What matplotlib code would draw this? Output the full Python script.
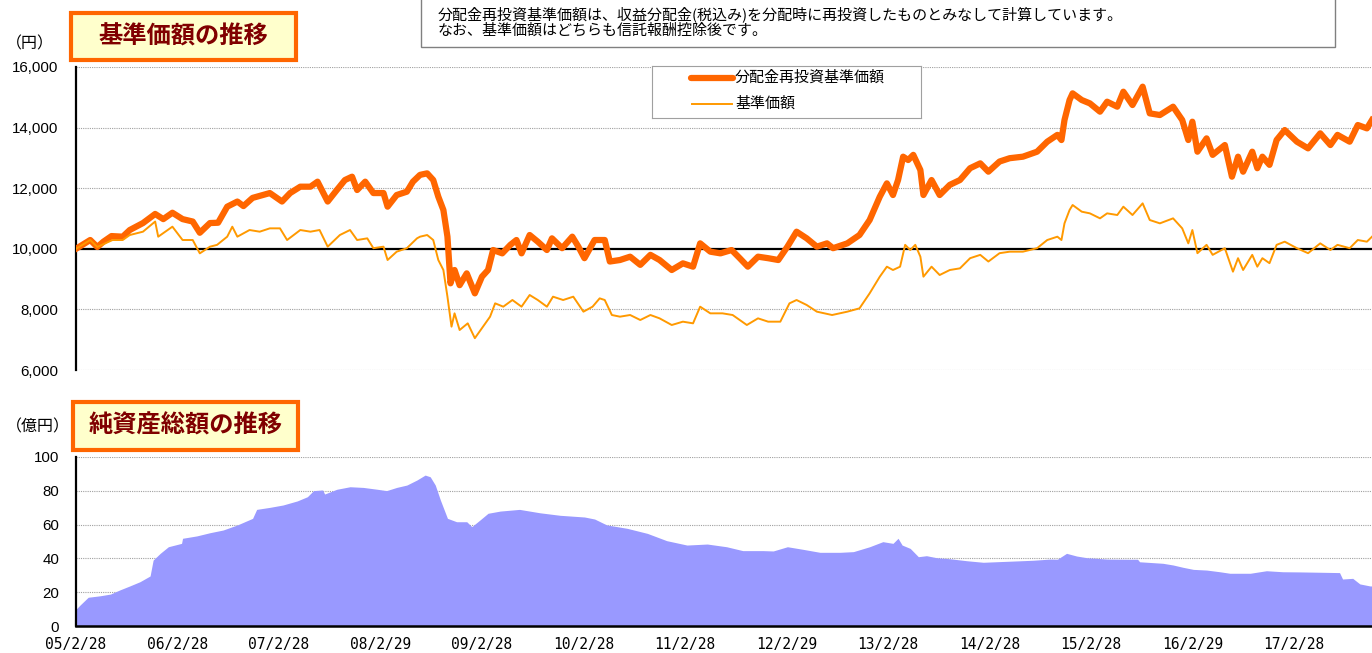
import matplotlib
matplotlib.use('Agg')
import matplotlib.pyplot as plt
from matplotlib.patches import Rectangle
import numpy as np

plt.rcParams['font.family'] = ['Noto Sans CJK JP', 'DejaVu Sans']

# 分配金再投資基準価額 (decimal year, yen)
re_x = [2005.16, 2005.30, 2005.37, 2005.43, 2005.51, 2005.62, 2005.69, 2005.82, 2005.94, 2006.02,
        2006.11, 2006.21, 2006.31, 2006.38, 2006.48, 2006.56, 2006.65, 2006.75, 2006.81, 2006.90,
        2007.07, 2007.19, 2007.27, 2007.37, 2007.47, 2007.54, 2007.64, 2007.73, 2007.81, 2007.88,
        2007.93, 2008.01, 2008.09, 2008.19, 2008.23, 2008.32, 2008.42, 2008.48, 2008.55, 2008.62,
        2008.68, 2008.73, 2008.78, 2008.82, 2008.85, 2008.89, 2008.94, 2009.01, 2009.09, 2009.16,
        2009.22, 2009.27, 2009.36, 2009.44, 2009.50, 2009.55, 2009.63, 2009.71, 2009.80, 2009.85,
        2009.95, 2010.05, 2010.11, 2010.17, 2010.27, 2010.37, 2010.42, 2010.52, 2010.62, 2010.72,
        2010.82, 2010.91, 2011.03, 2011.14, 2011.24, 2011.31, 2011.41, 2011.51, 2011.62, 2011.70,
        2011.78, 2011.88, 2011.98, 2012.08, 2012.17, 2012.26, 2012.36, 2012.46, 2012.56, 2012.62,
        2012.76, 2012.88, 2012.98, 2013.08, 2013.15, 2013.21, 2013.26, 2013.31, 2013.36, 2013.41,
        2013.48, 2013.51, 2013.59, 2013.67, 2013.77, 2013.87, 2013.97, 2014.07, 2014.15, 2014.26,
        2014.36, 2014.49, 2014.63, 2014.73, 2014.83, 2014.87, 2014.90, 2014.95, 2014.98, 2015.07,
        2015.15, 2015.25, 2015.32, 2015.42, 2015.48, 2015.57, 2015.67, 2015.74, 2015.84, 2015.97,
        2016.06, 2016.12, 2016.16, 2016.21, 2016.30, 2016.36, 2016.48, 2016.55, 2016.61, 2016.66,
        2016.75, 2016.80, 2016.85, 2016.92, 2016.99, 2017.07, 2017.19, 2017.30, 2017.42, 2017.52,
        2017.59, 2017.71, 2017.79, 2017.88, 2017.93]
re_y = [10000, 10290, 10060, 10235, 10420, 10400, 10620, 10850, 11150, 10980,
        11190, 10980, 10900, 10530, 10850, 10860, 11390, 11560, 11410, 11680,
        11840, 11560, 11840, 12050, 12050, 12215, 11560, 11940, 12270, 12380,
        11940, 12215, 11840, 11840, 11390, 11775, 11885, 12215, 12440, 12490,
        12270, 11720, 11280, 10400, 8860, 9300, 8800, 9190, 8530, 9080,
        9300, 9960, 9850, 10130, 10290, 9850, 10455, 10235, 9960, 10345,
        10020, 10400, 10070, 9690, 10290, 10290, 9580, 9630, 9740, 9470,
        9800, 9630, 9300, 9520, 9410, 10180, 9905, 9850, 9960, 9690,
        9410, 9740, 9690, 9630, 10070, 10565, 10345, 10070, 10180, 10020,
        10180, 10455, 10950, 11720, 12160, 11775, 12270, 13040, 12930, 13100,
        12600, 11775, 12270, 11775, 12110, 12270, 12660, 12820, 12545, 12880,
        12990, 13040, 13205, 13535, 13760, 13590, 14250, 14910, 15130, 14910,
        14800, 14525, 14855, 14690, 15185, 14745, 15350, 14470, 14415, 14690,
        14250, 13590, 14195, 13205, 13645, 13100, 13425, 12380, 13040, 12545,
        13205, 12660, 13040, 12770, 13590, 13920, 13535, 13315, 13810, 13425,
        13760, 13535, 14085, 13975, 14250]

# 基準価額
nav_x = [2005.16, 2005.30, 2005.37, 2005.52, 2005.62, 2005.69, 2005.82, 2005.94, 2005.97, 2006.11,
         2006.21, 2006.31, 2006.38, 2006.48, 2006.55, 2006.65, 2006.70, 2006.75, 2006.87, 2006.97,
         2007.07, 2007.17, 2007.24, 2007.37, 2007.47, 2007.56, 2007.64, 2007.76, 2007.86, 2007.93,
         2008.03, 2008.09, 2008.19, 2008.23, 2008.32, 2008.42, 2008.52, 2008.55, 2008.62, 2008.68,
         2008.73, 2008.78, 2008.82, 2008.86, 2008.89, 2008.94, 2009.02, 2009.09, 2009.16, 2009.24,
         2009.29, 2009.37, 2009.46, 2009.55, 2009.63, 2009.71, 2009.80, 2009.86, 2009.96, 2010.06,
         2010.16, 2010.25, 2010.32, 2010.37, 2010.44, 2010.52, 2010.62, 2010.72, 2010.82, 2010.91,
         2011.03, 2011.14, 2011.24, 2011.31, 2011.41, 2011.53, 2011.63, 2011.77, 2011.88, 2011.98,
         2012.10, 2012.19, 2012.26, 2012.36, 2012.46, 2012.61, 2012.76, 2012.88, 2012.98, 2013.08,
         2013.15, 2013.21, 2013.28, 2013.33, 2013.38, 2013.43, 2013.48, 2013.51, 2013.59, 2013.67,
         2013.77, 2013.87, 2013.97, 2014.07, 2014.15, 2014.26, 2014.36, 2014.49, 2014.63, 2014.73,
         2014.83, 2014.87, 2014.90, 2014.95, 2014.98, 2015.07, 2015.15, 2015.25, 2015.32, 2015.42,
         2015.48, 2015.57, 2015.67, 2015.74, 2015.84, 2015.97, 2016.06, 2016.12, 2016.16, 2016.21,
         2016.30, 2016.36, 2016.48, 2016.56, 2016.61, 2016.66, 2016.75, 2016.80, 2016.85, 2016.92,
         2016.99, 2017.07, 2017.19, 2017.30, 2017.42, 2017.52, 2017.59, 2017.71, 2017.79, 2017.88,
         2017.93]
nav_y = [10000, 10290, 10060, 10290, 10290, 10455, 10565, 10900, 10400, 10730,
         10290, 10290, 9850, 10070, 10130, 10400, 10730, 10400, 10620, 10565,
         10675, 10675, 10290, 10620, 10565, 10620, 10070, 10455, 10620, 10290,
         10345, 10020, 10070, 9630, 9905, 10020, 10345, 10400, 10455, 10290,
         9630, 9300, 8420, 7430, 7870, 7320, 7540, 7050, 7380, 7760,
         8200, 8090, 8310, 8090, 8475, 8310, 8090, 8420, 8310, 8420,
         7925, 8090, 8365, 8310, 7815, 7760, 7815, 7650, 7815, 7705,
         7485, 7595, 7540, 8090, 7870, 7870, 7815, 7485, 7705, 7595,
         7595, 8200, 8310, 8145, 7925, 7815, 7925, 8035, 8530, 9080,
         9410, 9300, 9410, 10130, 9960, 10130, 9740, 9080, 9410, 9135,
         9300, 9355, 9690, 9800, 9580, 9855, 9905, 9905, 10020, 10290,
         10400, 10290, 10840, 11280, 11445, 11225, 11170, 11005, 11170, 11115,
         11390, 11115, 11500, 10950, 10840, 11005, 10675, 10180, 10620, 9855,
         10130, 9800, 10020, 9245, 9690, 9300, 9800, 9410, 9690, 9525,
         10130, 10235, 10020, 9855, 10180, 9960, 10130, 10020, 10290, 10235,
         10400]

# 純資産総額 (億円)
aum_x = [2005.16, 2005.20, 2005.28, 2005.40, 2005.50, 2005.59, 2005.69, 2005.79, 2005.89, 2005.92,
         2005.99, 2006.07, 2006.20, 2006.21, 2006.35, 2006.48, 2006.61, 2006.75, 2006.90, 2006.94,
         2007.07, 2007.20, 2007.34, 2007.44, 2007.50, 2007.59, 2007.61, 2007.73, 2007.86, 2007.99,
         2008.13, 2008.22, 2008.32, 2008.42, 2008.52, 2008.60, 2008.65, 2008.70, 2008.75, 2008.82,
         2008.91, 2009.01, 2009.06, 2009.14, 2009.22, 2009.34, 2009.53, 2009.73, 2009.93, 2010.17,
         2010.27, 2010.39, 2010.59, 2010.79, 2010.98, 2011.18, 2011.38, 2011.57, 2011.73, 2011.93,
         2012.03, 2012.17, 2012.32, 2012.49, 2012.69, 2012.82, 2012.98, 2013.11, 2013.21, 2013.26,
         2013.30, 2013.38, 2013.46, 2013.54, 2013.64, 2013.77, 2013.94, 2014.10, 2014.26, 2014.43,
         2014.59, 2014.76, 2014.83, 2014.92, 2015.02, 2015.12, 2015.32, 2015.51, 2015.62, 2015.64,
         2015.87, 2015.97, 2016.07, 2016.17, 2016.30, 2016.43, 2016.53, 2016.73, 2016.89, 2017.05,
         2017.22, 2017.42, 2017.61, 2017.64, 2017.74, 2017.81, 2017.91, 2017.93]
aum_y = [9.9, 12.4, 17.0, 17.9, 18.9, 21.3, 23.7, 26.2, 29.6, 39.0,
         43.0, 46.9, 48.9, 51.9, 53.3, 55.2, 56.8, 59.8, 63.7, 69.0,
         70.2, 71.6, 74.0, 76.5, 80.1, 80.5, 78.1, 80.9, 82.4, 82.0,
         80.9, 80.1, 82.0, 83.4, 86.4, 89.3, 88.3, 83.4, 74.6, 63.7,
         61.7, 61.7, 58.8, 62.7, 66.7, 68.0, 69.0, 67.0, 65.5, 64.5,
         63.3, 59.8, 57.8, 54.8, 50.5, 47.9, 48.5, 46.9, 44.6, 44.6,
         44.4, 46.9, 45.4, 43.6, 43.6, 44.0, 46.9, 49.9, 48.9, 51.9,
         47.9, 45.9, 41.0, 41.6, 40.4, 39.8, 38.6, 37.7, 38.1, 38.5,
         38.9, 39.6, 39.5, 43.0, 41.4, 40.4, 39.6, 39.5, 39.5, 38.0,
         37.1, 36.1, 34.7, 33.5, 33.1, 32.1, 31.2, 31.2, 32.7, 32.1,
         32.0, 31.8, 31.6, 27.8, 28.2, 24.9, 23.7, 23.7]

tick_pos = [2005.16 + k for k in range(13)]
tick_labels = ['05/2/28', '06/2/28', '07/2/28', '08/2/29', '09/2/28', '10/2/28', '11/2/28',
               '12/2/29', '13/2/28', '14/2/28', '15/2/28', '16/2/29', '17/2/28']
x_min, x_max = 2005.16, 2017.93

W, H = 1372, 653
def fx(px):
    return px / W
def fy(py):
    return 1 - py / H

fig = plt.figure(figsize=(W / 100, H / 100), dpi=100)

grid_kw = dict(color='#a0a0a0', lw=0.8, ls=(0, (1, 1)))
num_font = dict(family='Liberation Sans', size=10.8)

# --- 基準価額 ---
ax1 = fig.add_axes([fx(76), fy(370), fx(1372) - fx(76), fy(67) - fy(370)])
ax1.set_xlim(x_min, x_max)
ax1.set_ylim(6000, 16000)
yt = [6000, 8000, 10000, 12000, 14000, 16000]
ax1.set_yticks(yt)
ax1.set_yticklabels(['{:,}'.format(v) for v in yt], fontdict=num_font)
ax1.set_xticks([])
for v in yt:
    if v != 10000:
        ax1.axhline(v, zorder=0, **grid_kw)
ax1.axhline(10000, color='black', lw=1.6, zorder=1)
ax1.plot(re_x, re_y, color='#ff6600', lw=4.5, solid_joinstyle='round', zorder=3)
ax1.plot(nav_x, nav_y, color='#ff9900', lw=1.4, zorder=4)
for s in ['top', 'right', 'bottom']:
    ax1.spines[s].set_visible(False)
ax1.spines['left'].set_linewidth(1.6)
ax1.tick_params(axis='y', length=0, pad=13)

# --- 純資産総額 ---
ax2 = fig.add_axes([fx(76), fy(626), fx(1372) - fx(76), fy(457) - fy(626)])
ax2.set_xlim(x_min, x_max)
ax2.set_ylim(0, 100)
yt2 = [0, 20, 40, 60, 80, 100]
ax2.set_yticks(yt2)
ax2.set_yticklabels([str(v) for v in yt2], fontdict=num_font)
for v in yt2[1:]:
    ax2.axhline(v, zorder=0, **grid_kw)
ax2.fill_between(aum_x, aum_y, 0, color='#9999ff', lw=0, zorder=2)
ax2.set_xticks(tick_pos)
ax2.set_xticklabels(tick_labels, family='DejaVu Sans Mono', size=10.5)
for s in ['top', 'right']:
    ax2.spines[s].set_visible(False)
ax2.spines['left'].set_linewidth(1.6)
ax2.spines['bottom'].set_linewidth(1.8)
ax2.spines['left'].set_zorder(5)
ax2.spines['bottom'].set_zorder(5)
ax2.tick_params(axis='y', length=0, pad=12)
ax2.tick_params(axis='x', direction='in', length=4, width=1.5, pad=8)

# title boxes
for (x0, y0, x1, y1, label) in [(71, 13, 296, 60, '基準価額の推移'),
                                (73, 402, 298, 450, '純資産総額の推移')]:
    fig.add_artist(Rectangle((fx(x0), fy(y1)), fx(x1) - fx(x0), fy(y0) - fy(y1),
                             transform=fig.transFigure, fc='#ffffcc', ec='#ff6600', lw=3))
    fig.text(fx((x0 + x1) / 2), fy((y0 + y1) / 2), label, ha='center', va='center',
             color='#800000', fontsize=17.5, fontweight='bold')

fig.text(fx(6), fy(44), '（円）', va='center', fontsize=11.5)
fig.text(fx(6), fy(427), '（億円）', va='center', fontsize=11.5)

# note box
fig.add_artist(Rectangle((fx(421), fy(47)), fx(1335) - fx(421), fy(-3) - fy(47),
                         transform=fig.transFigure, fc='white', ec='#808080', lw=1))
fig.text(fx(438), fy(14), '分配金再投資基準価額は、収益分配金(税込み)を分配時に再投資したものとみなして計算しています。',
         va='center', fontsize=10.8)
fig.text(fx(438), fy(31), 'なお、基準価額はどちらも信託報酬控除後です。', va='center', fontsize=10.8)

# legend
lg = fig.add_axes([fx(652), fy(118), fx(921) - fx(652), fy(66) - fy(118)])
lg.set_xlim(0, 269)
lg.set_ylim(52, 0)
lg.set_xticks([])
lg.set_yticks([])
for s in lg.spines.values():
    s.set_color('#a0a0a0')
    s.set_linewidth(0.8)
lg.plot([39, 81], [12, 12], color='#ff6600', lw=4.5, solid_capstyle='round')
lg.plot([40, 80], [38, 38], color='#ff9900', lw=1.4)
lg.text(83, 12, '分配金再投資基準価額', va='center', fontsize=10.8)
lg.text(83, 38, '基準価額', va='center', fontsize=10.8)

fig.savefig('out.png', dpi=100)
